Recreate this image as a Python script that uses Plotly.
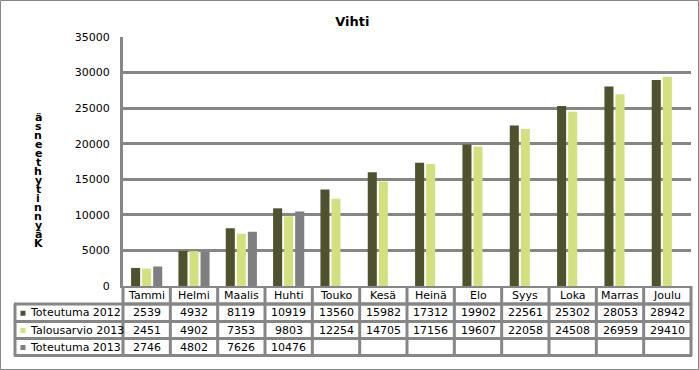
import plotly.graph_objects as go

months = ["Tammi", "Helmi", "Maalis", "Huhti", "Touko", "Kesä", "Heinä", "Elo", "Syys", "Loka", "Marras", "Joulu"]
series_names = ["Toteutuma 2012", "Talousarvio 2013", "Toteutuma 2013"]
toteutuma_2012 = [2539, 4932, 8119, 10919, 13560, 15982, 17312, 19902, 22561, 25302, 28053, 28942]
talousarvio_2013 = [2451, 4902, 7353, 9803, 12254, 14705, 17156, 19607, 22058, 24508, 26959, 29410]
toteutuma_2013 = [2746, 4802, 7626, 10476, None, None, None, None, None, None, None, None]
colors = ["#50512e", "#d4e07f", "#7f7f7f"]
y_ticks = [0, 5000, 10000, 15000, 20000, 25000, 30000, 35000]
title_text = "Vihti"
y_title = "Käynnit yhteensä"

W, H = 699, 370
L, R, T, B = 123, 8, 37, 84
PW, PH = W - L - R, H - T - B
GRAY = "#868686"
FONT = "DejaVu Sans"

def px_x(px):
    return (px - L) / PW

def px_y(py):
    return (H - B - py) / PH

all_series = [toteutuma_2012, talousarvio_2013, toteutuma_2013]
fig = go.Figure()
for name, vals, col in zip(series_names, all_series, colors):
    fig.add_trace(go.Bar(x=months, y=vals, name=name, marker=dict(color=col, line=dict(width=0))))

shapes = []
annotations = []

# outer frame
shapes.append(dict(type="rect", xref="paper", yref="paper",
                   x0=px_x(0.5), x1=px_x(698.5), y0=px_y(369.5), y1=px_y(0.5),
                   line=dict(color=GRAY, width=1)))

# table geometry (pixels)
header_top, r1, r2, r3, bottom = 286, 304, 321.5, 338.5, 355.5
leg_left = 15
n = len(months)
lw = 3
shapes.append(dict(type="line", xref="paper", yref="paper", x0=0, x1=1, y0=px_y(r1), y1=px_y(r1), line=dict(color=GRAY, width=lw)))
for yy in (r1, r2, r3, bottom):
    shapes.append(dict(type="line", xref="paper", yref="paper", x0=px_x(leg_left) - 0.002, x1=1.002,
                       y0=px_y(yy), y1=px_y(yy), line=dict(color=GRAY, width=lw)))
for i in range(n + 1):
    xp = i / n
    shapes.append(dict(type="line", xref="paper", yref="paper", x0=xp, x1=xp,
                       y0=px_y(header_top), y1=px_y(bottom), line=dict(color=GRAY, width=lw)))
shapes.append(dict(type="line", xref="paper", yref="paper", x0=px_x(leg_left), x1=px_x(leg_left),
                   y0=px_y(r1), y1=px_y(bottom), line=dict(color=GRAY, width=lw)))

hc = (header_top + r1) / 2
for m in months:
    annotations.append(dict(x=m, xref="x", y=px_y(hc), yref="paper", text=m, showarrow=False,
                            font=dict(family=FONT, size=11, color="#000"), xanchor="center", yanchor="middle"))
row_centers = [(r1 + r2) / 2, (r2 + r3) / 2, (r3 + bottom) / 2]
for rc, name, vals, col in zip(row_centers, series_names, all_series, colors):
    shapes.append(dict(type="rect", xref="paper", yref="paper", x0=px_x(20.5), x1=px_x(25.5),
                       y0=px_y(rc + 3), y1=px_y(rc - 2), line=dict(width=0), fillcolor=col))
    annotations.append(dict(x=px_x(27.5), xref="paper", y=px_y(rc), yref="paper", text=name, showarrow=False,
                            font=dict(family=FONT, size=11, color="#000"), xanchor="left", yanchor="middle"))
    for m, v in zip(months, vals):
        if v is None:
            continue
        annotations.append(dict(x=m, xref="x", y=px_y(rc), yref="paper", text=str(v), showarrow=False,
                                font=dict(family=FONT, size=11, color="#000"), xanchor="center", yanchor="middle"))

# stacked vertical y-axis title (letters upright, read bottom to top, space collapsed)
letters = [ch for ch in y_title if ch != " "]
step = 9.0
for k, ch in enumerate(letters):
    annotations.append(dict(x=px_x(38), xref="paper", y=px_y(243 - k * step), yref="paper", text="<b>" + ch + "</b>",
                            showarrow=False, font=dict(family=FONT, size=11, color="#000"),
                            xanchor="center", yanchor="middle"))

fig.update_layout(
    width=W, height=H,
    margin=dict(l=L, r=R, t=T, b=B),
    paper_bgcolor="white", plot_bgcolor="white",
    showlegend=False,
    barmode="group", bargap=0.30, bargroupgap=0.18,
    title=dict(text="<b>" + title_text + "</b>", x=0.504, xref="container", xanchor="center",
               y=1 - 21 / H, yref="container", yanchor="middle",
               font=dict(family=FONT, size=13, color="#000")),
    xaxis=dict(showticklabels=False, ticks="", showgrid=False, showline=True, linecolor=GRAY, linewidth=1.5,
               range=[-0.5, n - 0.5], fixedrange=True),
    yaxis=dict(range=[0, 35000], tickvals=y_ticks, ticktext=[str(v) for v in y_ticks],
               showgrid=True, gridcolor=GRAY, gridwidth=3, zeroline=False,
               showline=True, linecolor=GRAY, linewidth=3, ticks="", ticklabelstandoff=8,
               tickfont=dict(family=FONT, size=11, color="#000"), fixedrange=True),
    shapes=shapes, annotations=annotations,
)

fig.write_html("out.html")
